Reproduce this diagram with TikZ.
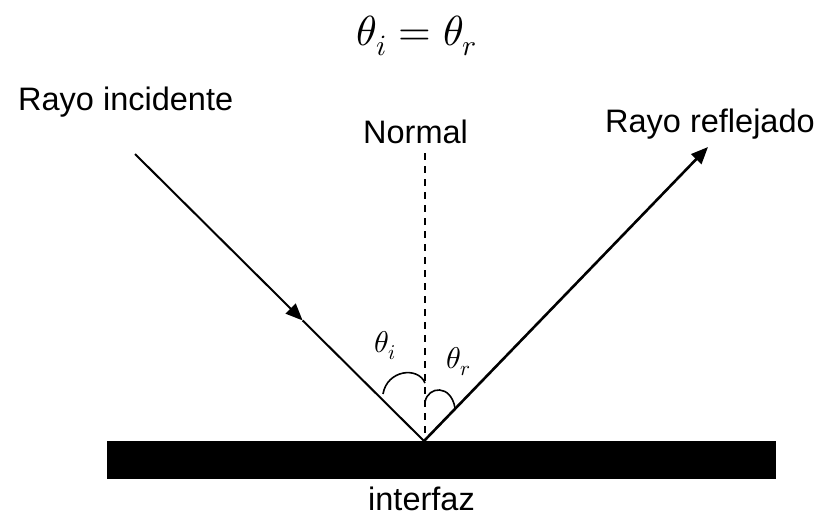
\documentclass[tikz,border=0pt]{standalone}
\usepackage{fontspec}
\usepackage{unicode-math}
\setmainfont{Liberation Sans}
\setmathfont{Latin Modern Math}
\usetikzlibrary{arrows.meta,calc}
\begin{document}
\begin{tikzpicture}[x=1pt,y=-1pt,
  lbl/.style={inner sep=0pt,anchor=base west,font=\fontsize{32.5}{36}\selectfont},
  ang/.style={inner sep=0pt,anchor=base,font=\fontsize{30}{34}\selectfont},
  ray/.style={line width=2pt,black},
  tip/.style={-{Triangle[length=17pt,width=14pt]}},
  arcline/.style={line width=1.6pt}]
\useasboundingbox (0,0) rectangle (820,517);
% title
\node[inner sep=0pt,anchor=base,font=\fontsize{42}{46}\selectfont] (title) at (417,45) {$\theta_i=\theta_r$};
% interface
\node[fill=black,inner sep=0pt,minimum width=669pt,minimum height=38pt,anchor=north west] (bar) at (107,441) {};
\coordinate (v) at (424,441);
\coordinate (a) at (135,154);
\coordinate (b) at (708,147);
\coordinate (n) at (425,153);
\coordinate (nb) at (425,441);
\coordinate (m) at ($(a)!0.58!(v)$);
% normal
\draw[line width=1.5pt,dash pattern=on 7pt off 6pt] (n) -- (nb);
% rays
\draw[ray,tip] (a) -- (m);
\draw[ray] (m) -- (v);
\draw[ray,line width=2.6pt,tip] (v) -- (b);
% angle arcs
\coordinate (ai1) at (383,394);
\coordinate (ai2) at (425,383);
\coordinate (ar1) at (425,402);
\coordinate (ar2) at (455,408);
\draw[arcline] (ai1) .. controls (387,370) and (418,366) .. (ai2);
\draw[arcline] (ar1) .. controls (428,386) and (451,384) .. (ar2);
% labels
\node[lbl] (inc) at (18,110) {Rayo incidente};
\node[lbl] (refl) at (605,132) {Rayo reflejado};
\node[lbl] (norm) at (363,143) {Normal};
\node[lbl] (intf) at (368,510) {interfaz};
\node[ang] (ti) at (385,352) {$\theta_i$};
\node[ang] (tr) at (459,368) {$\theta_r$};
\end{tikzpicture}
\end{document}
